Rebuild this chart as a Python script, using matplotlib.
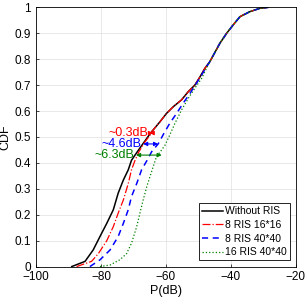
import matplotlib
matplotlib.use("Agg")
import matplotlib.pyplot as plt
import numpy as np

plt.rcParams['font.family'] = ['Liberation Sans', 'DejaVu Sans']

# shared upper part of all curves (they merge above CDF ~0.75)
p_top = [-46.5, -43.4, -41.3, -39.3, -37.2, -34.2, -31.1, -28.5]
cdf_top = [0.79, 0.861, 0.90, 0.932, 0.964, 0.983, 0.996, 1.0]

# middle part shared by "Without RIS" and "8 RIS 16*16"
p_mid = [-64.4, -61.8, -59.8, -57.7, -55.2, -53.1, -51.1, -49.5, -48.0]
cdf_mid = [0.52, 0.559, 0.591, 0.617, 0.643, 0.675, 0.70, 0.732, 0.765]

p_none = [-89.0, -84.9, -82.4, -80.3, -78.2, -76.2, -74.7, -73.1, -71.6,
          -70.6, -68.8, -67.0, -65.3] + p_mid + p_top
cdf_none = [0.0, 0.02, 0.064, 0.116, 0.167, 0.219, 0.283, 0.334, 0.373,
            0.41, 0.443, 0.475, 0.505] + cdf_mid + cdf_top

p_16 = [-87.5, -82.9, -80.8, -78.2, -76.2, -74.7, -73.1, -71.6, -70.6,
        -69.5, -68.3, -66.8, -65.0] + p_mid + p_top
cdf_16 = [0.0, 0.02, 0.05, 0.10, 0.154, 0.206, 0.257, 0.32, 0.373,
          0.41, 0.443, 0.475, 0.505] + cdf_mid + cdf_top

p_8 = [-83.4, -80.3, -77.2, -74.7, -73.1, -71.6, -70.6, -69.0, -67.5,
       -65.8, -64.4, -62.4, -60.6, -58.8, -56.7, -54.7, -52.6,
       -50.6, -49.0, -47.8] + p_top
cdf_8 = [0.0, 0.026, 0.064, 0.116, 0.167, 0.219, 0.27, 0.32, 0.373,
         0.41, 0.443, 0.473, 0.514, 0.553, 0.591, 0.63, 0.668,
         0.707, 0.739, 0.765] + cdf_top

p_1640 = [-80.3, -77.2, -74.2, -72.1, -70.6, -69.0, -68.0, -67.0, -65.9,
          -64.9, -63.9, -62.9, -61.3, -60.3, -58.8, -57.2, -55.2, -53.1,
          -51.1, -49.0, -47.5] + p_top
cdf_1640 = [0.0, 0.006, 0.026, 0.05, 0.09, 0.154, 0.206, 0.257, 0.308,
            0.347, 0.386, 0.424, 0.45, 0.468, 0.508, 0.553, 0.604, 0.649,
            0.688, 0.726, 0.765] + cdf_top

labels = ["Without RIS", "8 RIS 16*16", "8 RIS 40*40", "16 RIS 40*40"]

# gap annotations: (text, y, x_start, x_end, colour)
gaps = [("~0.3dB", 0.515, -65.0, -64.0, "red"),
        ("~4.6dB", 0.473, -67.0, -62.4, "blue"),
        ("~6.3dB", 0.43, -69.2, -61.3, "green")]

fig = plt.figure(figsize=(3.05, 3.05), dpi=100)
ax = fig.add_axes([0.118, 0.126, 0.852, 0.850])

ax.plot(p_none, cdf_none, color="black", lw=1.1, label=labels[0])
ax.plot(p_16, cdf_16, color="red", lw=0.9, ls="-.", label=labels[1])
ax.plot(p_8, cdf_8, color="blue", lw=1.1, ls=(0, (4, 3)), label=labels[2])
ax.plot(p_1640, cdf_1640, color="green", lw=0.9, ls=":", label=labels[3])

for txt, y, x0, x1, c in gaps:
    ax.annotate("", xy=(x1, y), xytext=(x0, y),
                arrowprops=dict(arrowstyle="<|-|>", color=c, lw=0.8,
                                mutation_scale=6, shrinkA=0, shrinkB=0))
    ax.text(x0 - 0.4, y, txt, color=c, fontsize=9, ha="right", va="center")

ax.set_xlim(-100, -20)
ax.set_ylim(0, 1)
ax.set_xticks(np.arange(-100, -19, 20))
ax.set_yticks(np.arange(0, 1.01, 0.1))
ax.set_yticklabels(["0", "0.1", "0.2", "0.3", "0.4", "0.5", "0.6", "0.7",
                    "0.8", "0.9", "1"])
ax.tick_params(direction="in", labelsize=8.5, length=2.5, width=0.5)
ax.grid(True, color="#e0e0e0", lw=0.5)
for s in ax.spines.values():
    s.set_linewidth(0.6)
ax.set_xlabel("P(dB)", fontsize=9, labelpad=1)
ax.set_ylabel("CDF", fontsize=9, labelpad=2)

leg = ax.legend(loc="lower right", fontsize=7.5, fancybox=False,
                edgecolor="black", framealpha=1, handlelength=2.0,
                handletextpad=0.2, borderpad=0.3, labelspacing=0.35,
                borderaxespad=0.6)
leg.get_frame().set_linewidth(0.6)

fig.savefig("out.png", dpi=100)
